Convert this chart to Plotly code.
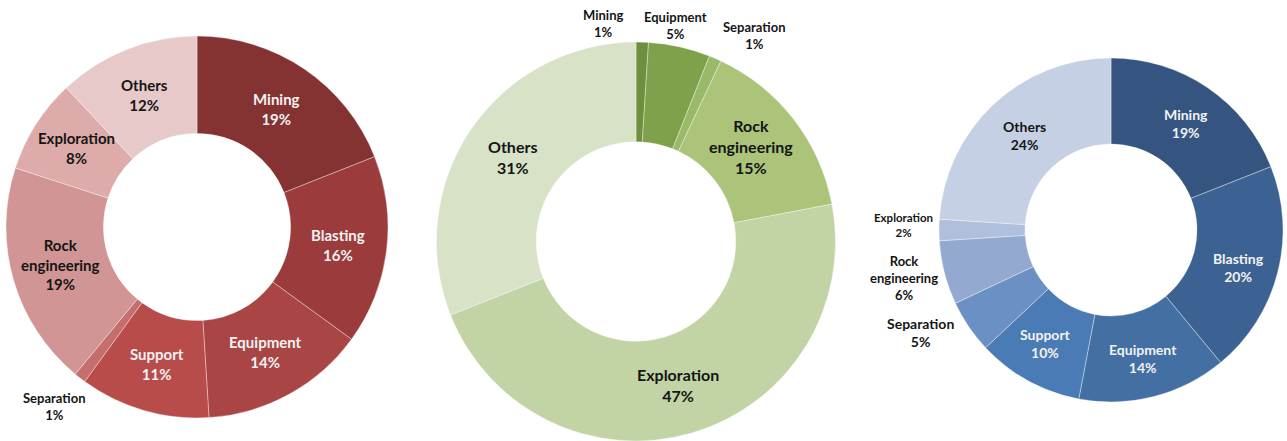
import math
import plotly.graph_objects as go

# ---- data ----
red_labels = ["Mining", "Blasting", "Equipment", "Support", "Separation",
              "Rock engineering", "Exploration", "Others"]
red_values = [19, 16, 14, 11, 1, 19, 8, 12]

green_labels = ["Mining", "Equipment", "Separation", "Rock engineering",
                "Exploration", "Others"]
green_values = [1, 5, 1, 15, 47, 31]

blue_labels = ["Mining", "Blasting", "Equipment", "Support", "Separation",
               "Rock engineering", "Exploration", "Others"]
blue_values = [19, 20, 14, 10, 5, 6, 2, 24]

# ---- styles ----
red_colors = ["#853332", "#9b3b3b", "#a94545", "#b84c4b", "#c56e6d",
              "#d09594", "#dcabaa", "#e8c9c9"]
green_colors = ["#6e8f3e", "#80a14c", "#9aba6a", "#abc47a", "#c2d4a5", "#d7e2c6"]
blue_colors = ["#355580", "#3c6294", "#436fa3", "#4b7bb4", "#6a90c4",
               "#93a9d0", "#b0c0dc", "#c6d0e4"]

W, H = 1287, 441
FONT = "Lato"
WHITE = "#f2f2f2"
BLACK = "#151515"

charts = [
    dict(labels=red_labels, values=red_values, colors=red_colors, hole=0.49,
         dom_px=(6, 388, 36, 418),
         outside=[False, False, False, False, True, False, False, False],
         sizes=[15, 15, 15, 15, 13, 15, 15, 15],
         tcolors=[WHITE, WHITE, WHITE, WHITE, BLACK, BLACK, BLACK, BLACK],
         pad=[0, 0, 0, 0, 36, 0, 0, 0],
         shift=[(0, 0)] * 4 + [(-4, 0), (0, 2), (0, 3), (0, 0)]),
    dict(labels=green_labels, values=green_values, colors=green_colors, hole=0.5,
         dom_px=(436, 836, 42, 441),
         outside=[True, True, True, False, False, False],
         sizes=[13, 13, 13, 16, 16, 16],
         tcolors=[BLACK] * 6,
         pad=[22, 22, 37, 0, 0, 0],
         shift=[(-40, -3), (-9, 0), (24, -11), (-3, 3), (0, 0), (0, 0)]),
    dict(labels=blue_labels, values=blue_values, colors=blue_colors, hole=0.5,
         dom_px=(939, 1283, 58, 402),
         outside=[False, False, False, False, True, True, True, False],
         sizes=[14, 14, 14, 14, 14, 13, 11.5, 14],
         tcolors=[WHITE, WHITE, WHITE, WHITE, BLACK, BLACK, BLACK, BLACK],
         pad=[0, 0, 0, 0, 40, 42, 36, 0],
         shift=[(2, 0), (3, -5), (0, -4), (-3, 0), (-15, 17), (0, 5), (0, 5), (2, 0)]),
]

fig = go.Figure()
annotations = []

for c in charts:
    x0, x1, y0, y1 = c["dom_px"]
    fig.add_trace(go.Pie(
        labels=c["labels"], values=c["values"], hole=c["hole"], sort=False,
        direction="clockwise", rotation=0, textinfo="none",
        marker=dict(colors=c["colors"],
                    line=dict(color="rgba(255,255,255,0.35)", width=1)),
        domain=dict(x=[x0 / W, x1 / W], y=[1 - y1 / H, 1 - y0 / H]),
        showlegend=False, hoverinfo="label+percent",
    ))
    # geometry of the pie as plotly lays it out (centre of domain, r = min/2)
    cx, cy = (x0 + x1) / 2, (y0 + y1) / 2
    R = min(x1 - x0, y1 - y0) / 2
    r_in = R * c["hole"]
    total = sum(c["values"])
    cum = 0
    for i, (lab, v) in enumerate(zip(c["labels"], c["values"])):
        mid = (cum + v / 2) / total * 2 * math.pi
        cum += v
        if c["outside"][i]:
            r = R + c["pad"][i]
        else:
            r = (R + r_in) / 2 + c["pad"][i]
        px = cx + r * math.sin(mid) + c["shift"][i][0]
        py = cy - r * math.cos(mid) - c["shift"][i][1]
        annotations.append(dict(
            x=px / W, y=1 - py / H, xref="paper", yref="paper",
            text=lab.replace(" ", "<br>") + "<br>" + f"{v}%",
            showarrow=False, xanchor="center", yanchor="middle",
            font=dict(family=FONT, size=c["sizes"][i], color=c["tcolors"][i],
                      weight="bold"),
        ))

fig.update_layout(
    width=W, height=H,
    margin=dict(l=0, r=0, t=0, b=0),
    paper_bgcolor="white", plot_bgcolor="white",
    font=dict(family=FONT),
    annotations=annotations,
)

fig.write_html("out.html")
